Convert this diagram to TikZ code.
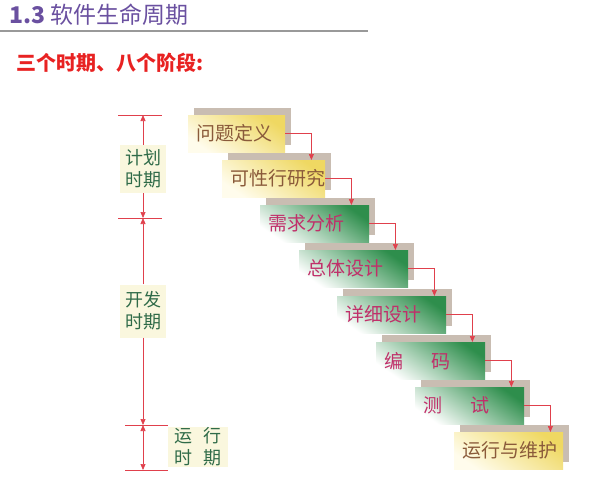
\documentclass[tikz,border=0pt]{standalone}
\usepackage{fontspec}
\setmainfont{Noto Sans CJK SC}
\usetikzlibrary{arrows.meta,shadows}

\definecolor{titlepurple}{HTML}{6A50A0}
\definecolor{subred}{HTML}{E82222}
\definecolor{linered}{HTML}{E0404C}
\definecolor{stagegreen}{HTML}{2E8E4C}
\definecolor{stageyellow}{HTML}{EFD862}
\definecolor{stagecream}{HTML}{FFFCEC}
\definecolor{stageshadow}{HTML}{C9BDB2}
\definecolor{stagered}{HTML}{C0306A}
\definecolor{stagebrown}{HTML}{8A5A3A}
\definecolor{periodbg}{HTML}{FAF7DE}
\definecolor{periodgreen}{HTML}{2F6B48}

\tikzset{
  stage/.style={rectangle, anchor=north west, minimum height=37pt,
    inner xsep=8pt, inner ysep=0pt, align=left,
    font=\fontsize{19}{21}\selectfont,
    general shadow={fill=stageshadow, shadow xshift=6pt, shadow yshift=7pt}},
  stage green/.style={stage, top color=stagegreen, bottom color=white,
    shading angle=-35, text=stagered},
  stage yellow/.style={stage, top color=stageyellow, bottom color=stagecream,
    shading angle=-35, text=stagebrown},
  flow/.style={draw=linered, line width=0.7pt, ->},
  tick/.style={draw=linered, line width=0.7pt},
  period/.style={fill=periodbg, text=periodgreen, align=center, inner sep=0pt,
    minimum width=46pt, font=\fontsize{18}{22}\selectfont}
}

\begin{document}
\begin{tikzpicture}[x=1pt, y=-1pt, >={Triangle[length=6pt,width=5pt]}]
  \useasboundingbox (0,0) rectangle (591,485);

  % heading
  \node[anchor=west, inner sep=0pt, text=titlepurple,
    font=\fontsize{23}{26}\selectfont] (title) at (9,15) {\textbf{1.3} 软件生命周期};
  \draw[gray!80, line width=1.5pt] (0,31) -- (368,31);
  \node[anchor=west, inner sep=0pt, text=subred,
    font=\fontsize{20}{22}\selectfont\bfseries] (sub) at (16,63) {三个时期、八个阶段:};

  % eight stages
  \node[stage yellow, text width=81pt] (b1) at (188,115) {问题定义};
  \node[stage yellow, text width=87pt] (b2) at (222,160) {可性行研究};
  \node[stage green, text width=93pt] (b3) at (260,205) {需求分析};
  \node[stage green, text width=93pt] (b4) at (299,250) {总体设计};
  \node[stage green, text width=93pt] (b5) at (337,296) {详细设计};
  \node[stage green, text width=93pt] (b6) at (376,342) {编\hspace{1.5em}码};
  \node[stage green, text width=93pt] (b7) at (415,387) {测\hspace{1.5em}试};
  \node[stage yellow, text width=93pt] (b8) at (454,432) {运行与维护};

  \foreach \a/\b in {b1/b2,b2/b3,b3/b4,b4/b5,b5/b6,b6/b7,b7/b8}
    \draw[flow] (\a.east) -- ++(26,0) coordinate (m) -- (m |- \b.north);

  % three periods
  \coordinate (t1) at (143,115);
  \coordinate (t2) at (143,218);
  \coordinate (t3) at (143,425);
  \coordinate (t4) at (143,470);
  \draw[tick] (118,115) -- (162,115);
  \draw[tick] (118,218) -- (162,218);
  \draw[tick] (125,425) -- (168,425);
  \draw[tick] (125,470) -- (168,470);

  \node[period, minimum height=48pt] (p1) at (143,169) {计划\\时期};
  \node[period, minimum height=53pt] (p2) at (143,311) {开发\\时期};
  \node[period, minimum width=60pt, minimum height=40pt] (p3) at (198,447)
    {运\hspace{0.6em}行\\时\hspace{0.6em}期};

  \draw[flow] (p1) -- (t1);
  \draw[flow] (p1) -- (t2);
  \draw[flow] (p2) -- (t2);
  \draw[flow] (p2) -- (t3);
  \draw[flow, <->] (t3) -- (t4);
\end{tikzpicture}
\end{document}
